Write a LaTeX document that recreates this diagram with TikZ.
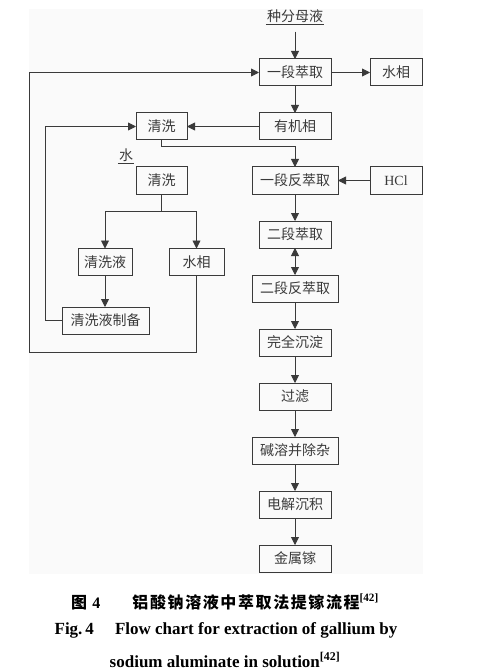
\documentclass[tikz,border=0pt]{standalone}
\usepackage{fontspec}
\setmainfont{Liberation Serif}
\newfontfamily\cjk{Noto Sans CJK SC}
\usetikzlibrary{arrows.meta,positioning}
\definecolor{ink}{HTML}{3A3A3A}
\definecolor{paper}{HTML}{FAFAFA}

\begin{document}
\begin{tikzpicture}[
  x=1pt,y=-1pt,
  node distance=27pt,
  block/.style={
    rectangle,
    draw=ink,
    line width=1pt,
    text=ink,
    minimum height=27pt,
    minimum width=72pt,
    inner sep=0pt,
    outer sep=0pt,
    font=\fontsize{14}{14}\cjk
  },
  wide/.style={block,minimum width=86pt},
  small/.style={block,minimum width=52pt},
  tag/.style={text=ink,inner xsep=1pt,inner ysep=2pt,font=\fontsize{14}{14}\cjk},
  arrow/.style={-{Triangle[length=8pt,width=8pt]},line width=0.9pt,draw=ink},
  twoway/.style={arrow,{Triangle[length=8pt,width=8pt]}-{Triangle[length=8pt,width=8pt]}},
  wire/.style={line width=0.9pt,draw=ink}
]
\useasboundingbox (0,0) rectangle (478,671);
\fill[paper] (29,9) rectangle (423,574);

% main column
\node[tag] (source) at (295,16) {种分母液};
\node[block] (ext1) at (295,72.5) {一段萃取};
\node[block,below=of ext1] (organic) {有机相};
\node[wide,below=of organic] (strip1) {一段反萃取};
\node[block,below=of strip1] (ext2) {二段萃取};
\node[wide,below=of ext2] (strip2) {二段反萃取};
\node[block,below=of strip2] (settle) {完全沉淀};
\node[block,below=of settle] (filter) {过滤};
\node[wide,below=of filter] (dissolve) {碱溶并除杂};
\node[block,below=of dissolve] (electro) {电解沉积};
\node[block,below=of electro] (gallium) {金属镓};

% side branches
\node[small,right=39pt of ext1] (aq1) {水相};
\node[small,right=32pt of strip1,font=\fontsize{14}{14}\rmfamily] (hcl) {HCl};
\node[small,minimum width=51pt,left=72pt of organic] (wash1) {清洗};
\node[tag] (water) at (126,155) {水};
\node[small,minimum width=51pt] (wash2) at (161.5,180.5) {清洗};
\node[small,minimum width=54pt] (washliq) at (105,262) {清洗液};
\node[small,minimum width=55pt] (aq2) at (196.5,262) {水相};
\node[block,minimum width=87pt] (prep) at (105.5,320.5) {清洗液制备};
\coordinate[yshift=-17pt] (split) at (wash2.south);
\coordinate (loop) at (29,352);

% underlines
\draw[wire] (source.south west) -- (source.south east);
\draw[wire] (water.south west) -- (water.south east);

% connectors
\draw[arrow,shorten <=7pt] (source) -- (ext1);
\draw[arrow] (ext1) -- (aq1);
\draw[arrow] (ext1) -- (organic);
\draw[arrow] (organic) -- (wash1);
\draw[arrow] (wash1.south) -- ++(0,6) -| (strip1.north);
\draw[arrow] (hcl) -- (strip1);
\draw[twoway] (ext2) -- (strip2);
\foreach \from/\to in {strip1/ext2,strip2/settle,settle/filter,filter/dissolve,dissolve/electro,electro/gallium}
  \draw[arrow] (\from) -- (\to);
\draw[wire] (wash2) -- (split);
\draw[arrow] (split) -| (washliq);
\draw[arrow] (split) -| (aq2);
\draw[arrow] (washliq) -- (washliq |- prep.north);
\draw[arrow] (prep.west) -- ++(-17,0) |- (wash1.west);
\draw[arrow] (aq2.south) |- (loop) |- (ext1.west);

% caption
\node[font=\fontsize{16}{16}\cjk\bfseries\addfontfeature{LetterSpace=10}] (title) at (225,602)
  {图 {\rmfamily\bfseries 4}\quad\quad 铝酸钠溶液中萃取法提镓流程\textsuperscript{\rmfamily[42]}};
\node[font=\fontsize{17}{17}\selectfont\bfseries] (entitle) at (226,630)
  {Fig.\,4\quad\  Flow chart for extraction of gallium by};
\node[font=\fontsize{17}{17}\selectfont\bfseries] (entitle2) at (225,660)
  {sodium aluminate in solution\textsuperscript{[42]}};
\end{tikzpicture}
\end{document}
